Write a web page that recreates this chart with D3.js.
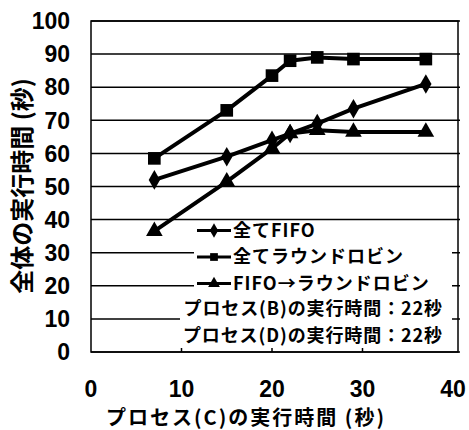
<!DOCTYPE html>
<html><head><meta charset="utf-8">
<script src="https://cdn.jsdelivr.net/npm/d3@7"></script>
<style>body{margin:0;background:#fff}svg{display:block}</style>
</head><body>
<script>
const xValues = [7, 15, 20, 22, 25, 29, 37];
const seriesNames = ["全てFIFO", "全てラウンドロビン", "FIFO→ラウンドロビン"];
const allFifo = [52, 59, 64, 66, 69, 73.5, 81];
const allRoundRobin = [58.5, 73, 83.5, 88, 89, 88.5, 88.5];
const fifoToRR = [36.5, 51.5, 61.5, 66, 67, 66.5, 66.5];
const yTicks = [0, 10, 20, 30, 40, 50, 60, 70, 80, 90, 100];
const xTicks = [0, 10, 20, 30, 40];
const notes = ["プロセス(B)の実行時間：22秒", "プロセス(D)の実行時間：22秒"];
const xTitle = "プロセス(C)の実行時間 (秒)";
const yTitle = "全体の実行時間 (秒)";

const W = 469, H = 430;
const svg = d3.select("body").append("svg").attr("width", W).attr("height", H);
const x = d3.scaleLinear().domain([0, 40]).range([91, 453]);
const y = d3.scaleLinear().domain([0, 100]).range([352, 21]);
const plotL = 91, plotR = 458, plotT = 21, plotB = 352;
const cjk = "'Noto Sans CJK JP', sans-serif";
const num = "'Liberation Sans', Arial, sans-serif";

// gridlines
svg.append("g").selectAll("line").data(yTicks).join("line")
  .attr("x1", plotL).attr("x2", plotR + 2)
  .attr("y1", d => y(d)).attr("y2", d => y(d))
  .attr("stroke", "#000").attr("stroke-width", 1.5);

// frame
svg.append("rect").attr("x", plotL).attr("y", plotT)
  .attr("width", plotR - plotL).attr("height", plotB - plotT)
  .attr("fill", "none").attr("stroke", "#000").attr("stroke-width", 1.5);

// x ticks (inside)
svg.append("g").selectAll("line").data(xTicks.slice(1, 4)).join("line")
  .attr("x1", d => x(d)).attr("x2", d => x(d))
  .attr("y1", plotB).attr("y2", plotB - 4)
  .attr("stroke", "#000").attr("stroke-width", 1.5);

// y tick labels
svg.append("g").selectAll("text").data(yTicks).join("text")
  .attr("x", 70).attr("y", d => y(d)).attr("dy", "0.36em")
  .attr("text-anchor", "end").attr("font-family", num).attr("font-weight", "bold")
  .attr("font-size", 23).text(d => d);

// x tick labels
svg.append("g").selectAll("text").data(xTicks).join("text")
  .attr("x", d => x(d)).attr("y", 389).attr("dy", "0.36em")
  .attr("text-anchor", "middle").attr("font-family", num).attr("font-weight", "bold")
  .attr("font-size", 23).text(d => d);

// axis titles
svg.append("text").attr("x", 246).attr("y", 417.5).attr("dy", "0.36em")
  .attr("text-anchor", "middle").attr("font-family", cjk).attr("font-weight", "bold")
  .attr("font-size", 20).attr("letter-spacing", 2).text(xTitle);
svg.append("text").attr("transform", "translate(22,186) rotate(-90)").attr("dy", "0.36em")
  .attr("text-anchor", "middle").attr("font-family", cjk).attr("font-weight", "bold")
  .attr("font-size", 24).text(yTitle);

// legend backgrounds
svg.append("rect").attr("x", 194).attr("y", 224).attr("width", 258).attr("height", 72).attr("fill", "#fff");
svg.append("rect").attr("x", 180).attr("y", 296).attr("width", 272).attr("height", 52).attr("fill", "#fff");

// series
const series = [
  {name: seriesNames[0], vals: allFifo, shape: d3.symbolDiamond},
  {name: seriesNames[1], vals: allRoundRobin, shape: d3.symbolSquare},
  {name: seriesNames[2], vals: fifoToRR, shape: d3.symbolTriangle}
];
const line = d3.line().x((d, i) => x(xValues[i])).y(d => y(d));
series.forEach(s => {
  svg.append("path").attr("d", line(s.vals)).attr("fill", "none")
    .attr("stroke", "#000").attr("stroke-width", 4).attr("stroke-linejoin", "round");
  const size = s.shape === d3.symbolSquare ? 160 : (s.shape === d3.symbolDiamond ? 110 : 120);
  svg.append("g").selectAll("path").data(s.vals).join("path")
    .attr("transform", (d, i) => `translate(${x(xValues[i])},${y(d)})`)
    .attr("d", d3.symbol().type(s.shape).size(size)).attr("fill", "#000");
});

// legend
const legY = [230.5, 257, 283.5];
series.forEach((s, i) => {
  const g = svg.append("g").attr("transform", `translate(0,${legY[i]})`);
  g.append("line").attr("x1", 197).attr("x2", 231).attr("y1", 0).attr("y2", 0)
    .attr("stroke", "#000").attr("stroke-width", 3);
  g.append("path").attr("transform", "translate(214,0)")
    .attr("d", d3.symbol().type(s.shape).size(60)).attr("fill", "#000");
  g.append("text").attr("x", 233).attr("y", 0).attr("dy", "0.36em")
    .attr("font-family", cjk).attr("font-weight", "bold").attr("font-size", 18)
    .attr("letter-spacing", 1).text(s.name);
});

// notes
svg.append("g").selectAll("text").data(notes).join("text")
  .attr("x", 443).attr("y", (d, i) => 309 + i * 26.5).attr("dy", "0.36em")
  .attr("text-anchor", "end").attr("font-family", cjk).attr("font-weight", "bold")
  .attr("font-size", 18).attr("letter-spacing", 0.9).text(d => d);
</script>
</body></html>
